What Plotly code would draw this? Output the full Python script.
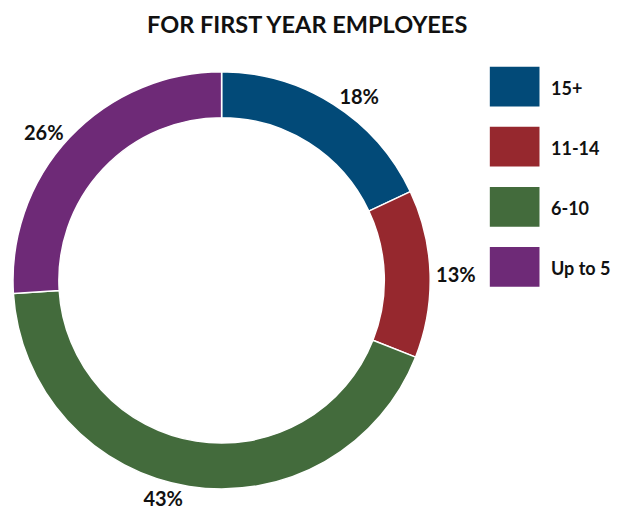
import plotly.graph_objects as go

categories = ["15+", "11-14", "6-10", "Up to 5"]
values = [18, 13, 43, 26]
colors = ["#024a78", "#96282e", "#436b3c", "#6e2a77"]
title_text = "FOR FIRST YEAR EMPLOYEES"

# The page body has an 8px margin on every side; size the figure so it fits the window
OFF = 8
W, H = 621 - 2 * OFF, 523 - 2 * OFF
FONT = "Lato"


def px(x):
    return (x - OFF) / W


def py(y):
    return 1 - (y - OFF) / H


fig = go.Figure()
fig.add_trace(go.Pie(
    labels=categories,
    values=values,
    sort=False,
    direction="clockwise",
    rotation=0,
    hole=0.78,
    marker=dict(colors=colors, line=dict(color="white", width=1.5)),
    texttemplate="<b>%{percent:.0%}</b>",
    textposition="outside",
    textfont=dict(family=FONT, size=20, color="#111111"),
    domain=dict(x=[px(9), px(429)], y=[py(492), py(72)]),
    showlegend=False,
    hoverinfo="label+percent",
))

# custom legend with large swatches
for i, (cat, col) in enumerate(zip(categories, colors)):
    y0 = 67 + i * 60.5
    fig.add_shape(type="rect", xref="paper", yref="paper",
                  x0=px(489), x1=px(539), y0=py(y0 + 40), y1=py(y0),
                  fillcolor=col, line=dict(width=0))
    fig.add_annotation(x=px(549), y=py(y0 + 21), xref="paper", yref="paper",
                       text="<b>%s</b>" % cat, showarrow=False, xanchor="left", yanchor="middle",
                       font=dict(family=FONT, size=18, color="#111111"))

# chart title
fig.add_annotation(x=px(305), y=py(9), xref="paper", yref="paper",
                   text="<b>%s</b>" % title_text, showarrow=False, xanchor="center", yanchor="top",
                   borderpad=0, font=dict(family=FONT, size=23.5, color="#111111"))

fig.update_layout(
    width=W, height=H,
    margin=dict(l=0, r=0, t=0, b=0),
    paper_bgcolor="white", plot_bgcolor="white",
)
fig.write_html("out.html")
